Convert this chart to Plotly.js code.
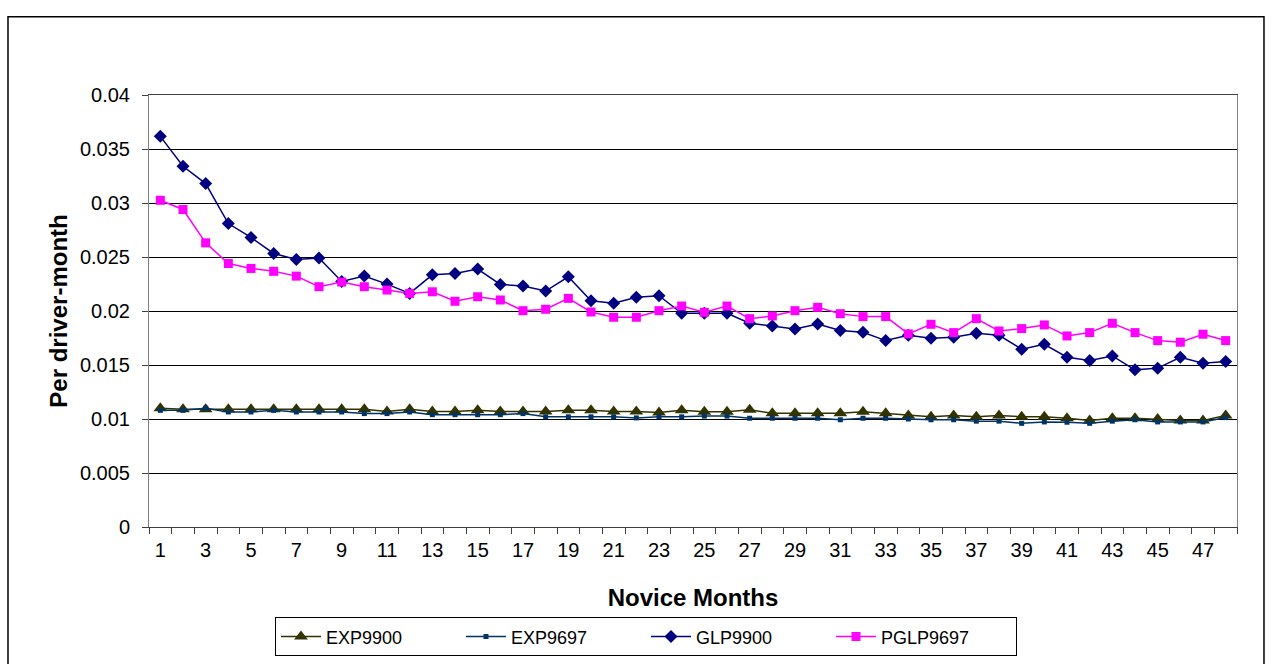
<!DOCTYPE html>
<html>
<head>
<meta charset="utf-8">
<script src="https://cdn.plot.ly/plotly-3.0.1.min.js"></script>
<style>
  html, body { margin: 0; padding: 0; background: #ffffff; }
  #chart { width: 1272px; height: 664px; }
</style>
</head>
<body>
<div id="chart"></div>
<script>
// Novice months (categories)
const months = [1,2,3,4,5,6,7,8,9,10,11,12,13,14,15,16,17,18,19,20,21,22,23,24,
                25,26,27,28,29,30,31,32,33,34,35,36,37,38,39,40,41,42,43,44,45,46,47,48];

// Series values (per driver-month)
const exp9900 = [0.0110,0.0109,0.0109,0.0109,0.0109,0.0109,0.0109,0.0109,0.0109,0.0109,0.0107,0.0109,
                 0.0107,0.0107,0.0108,0.0107,0.0107,0.0107,0.0108,0.0108,0.0107,0.0107,0.0106,0.0108,
                 0.01066,0.01066,0.01086,0.01053,0.01053,0.01053,0.01053,0.01066,0.01053,0.01033,0.0102,0.01033,
                 0.0102,0.01033,0.0102,0.0102,0.01007,0.00987,0.01007,0.01007,0.0100,0.00987,0.00987,0.01033];

const exp9697 = [0.0108,0.0108,0.0110,0.01065,0.01065,0.0108,0.01065,0.01065,0.01065,0.0105,0.0105,0.01065,
                 0.0104,0.0104,0.0104,0.0104,0.0105,0.0102,0.0102,0.0102,0.0102,0.0101,0.0102,0.0102,
                 0.01027,0.01027,0.01007,0.01007,0.01007,0.01007,0.00993,0.01007,0.01007,0.0100,0.00993,0.00993,
                 0.0098,0.0098,0.0096,0.00973,0.0097,0.0096,0.0098,0.00993,0.00973,0.00973,0.00973,0.01013];

const glp9900 = [0.03617,0.03340,0.03180,0.02810,0.02681,0.02533,0.02478,0.02490,0.02274,0.02323,0.02249,0.02163,
                 0.02335,0.02348,0.02388,0.02246,0.02231,0.02185,0.02317,0.02095,0.02071,0.02127,0.02142,0.01979,
                 0.01979,0.01979,0.01886,0.01861,0.01834,0.01880,0.01820,0.01803,0.01726,0.01775,0.01748,0.01757,
                 0.01794,0.01775,0.01646,0.01692,0.01572,0.01541,0.01584,0.01455,0.01471,0.01572,0.01517,0.01532];

const pglp9697 = [0.03025,0.02940,0.02631,0.02440,0.02394,0.02367,0.02323,0.02225,0.02268,0.02225,0.02194,0.02163,
                  0.02178,0.02090,0.02132,0.02102,0.02003,0.02016,0.02117,0.01991,0.01942,0.01942,0.02003,0.02046,
                  0.01988,0.02046,0.01929,0.01954,0.02003,0.02034,0.01975,0.01948,0.01948,0.01788,0.01877,0.01800,
                  0.01929,0.01815,0.01837,0.01871,0.01769,0.01800,0.01886,0.01800,0.01726,0.01711,0.01785,0.01726];

// Tick labels
const xTickVals = [1,3,5,7,9,11,13,15,17,19,21,23,25,27,29,31,33,35,37,39,41,43,45,47];
const xTickText = ['1','3','5','7','9','11','13','15','17','19','21','23','25','27','29','31','33','35','37','39','41','43','45','47'];
const xBoundaryTicks = [0.5,1.5,2.5,3.5,4.5,5.5,6.5,7.5,8.5,9.5,10.5,11.5,12.5,13.5,14.5,15.5,16.5,17.5,18.5,19.5,20.5,21.5,22.5,23.5,24.5,
                        25.5,26.5,27.5,28.5,29.5,30.5,31.5,32.5,33.5,34.5,35.5,36.5,37.5,38.5,39.5,40.5,41.5,42.5,43.5,44.5,45.5,46.5,47.5,48.5];
const yTickVals = [0,0.005,0.01,0.015,0.02,0.025,0.03,0.035,0.04];
const yTickText = ['0','0.005','0.01','0.015','0.02','0.025','0.03','0.035','0.04'];

const FONT = '"Liberation Sans", Arial, sans-serif';

const traces = [
  {
    x: months, y: exp9900, name: 'EXP9900', type: 'scatter', mode: 'lines+markers',
    line: { color: '#333300', width: 1.5 },
    marker: { symbol: 'triangle-up', size: 12, color: '#333300' }
  },
  {
    x: months, y: exp9697, name: 'EXP9697', type: 'scatter', mode: 'lines+markers',
    line: { color: '#003366', width: 1.5 },
    marker: { symbol: 'square', size: 5, color: '#003366' }
  },
  {
    x: months, y: glp9900, name: 'GLP9900', type: 'scatter', mode: 'lines+markers',
    line: { color: '#000080', width: 1.5 },
    marker: { symbol: 'diamond', size: 10, color: '#000080' }
  },
  {
    x: months, y: pglp9697, name: 'PGLP9697', type: 'scatter', mode: 'lines+markers',
    line: { color: '#FF00FF', width: 1.5 },
    marker: { symbol: 'square', size: 9, color: '#FF00FF' }
  }
];

const layout = {
  width: 1272, height: 664,
  paper_bgcolor: '#ffffff', plot_bgcolor: '#ffffff',
  margin: { l: 149, r: 35, t: 94.5, b: 136.5, pad: 0, autoexpand: false },
  font: { family: FONT, color: '#000000', size: 20 },
  showlegend: true,
  legend: {
    orientation: 'h', x: 0.4568, xanchor: 'center', y: -0.209, yanchor: 'top',
    bordercolor: '#000000', borderwidth: 1, bgcolor: '#ffffff',
    font: { family: FONT, size: 18, color: '#000000' },
    entrywidth: 130, itemwidth: 40
  },
  xaxis: {
    range: [0.5, 48.5], tickmode: 'array', tickvals: xTickVals, ticktext: xTickText,
    ticks: '', showgrid: false, zeroline: false, automargin: false,
    showline: true, linecolor: '#404040', linewidth: 1, mirror: true,
    tickfont: { family: FONT, size: 20, color: '#000000' },
    ticklabelstandoff: 5,
    minor: { tickmode: 'array', tickvals: xBoundaryTicks, ticks: 'outside', ticklen: 6, tickcolor: '#404040', showgrid: false },
    title: { text: '<b>Novice Months</b>', font: { family: FONT, size: 24, color: '#000000' }, standoff: 29 },
    fixedrange: true
  },
  yaxis: {
    range: [0, 0.04], tickmode: 'array', tickvals: yTickVals, ticktext: yTickText,
    ticks: 'outside', ticklen: 6, tickcolor: '#404040', automargin: false,
    showgrid: true, gridcolor: '#000000', gridwidth: 1, zeroline: false,
    showline: true, linecolor: '#808080', linewidth: 1, mirror: true,
    tickfont: { family: FONT, size: 20, color: '#000000' },
    ticklabelstandoff: 8,
    title: { text: '<b>Per driver-month</b>', font: { family: FONT, size: 24, color: '#000000' }, standoff: 5 },
    fixedrange: true
  },
  shapes: [
    { type: 'rect', xref: 'paper', yref: 'paper', x0: -0.1296, x1: 1.0248, y0: -0.34, y1: 1.1813,
      line: { color: '#000000', width: 1.5 }, fillcolor: 'rgba(0,0,0,0)', layer: 'below' }
  ]
};

Plotly.newPlot('chart', traces, layout, { displayModeBar: false, staticPlot: true });
</script>
</body>
</html>
